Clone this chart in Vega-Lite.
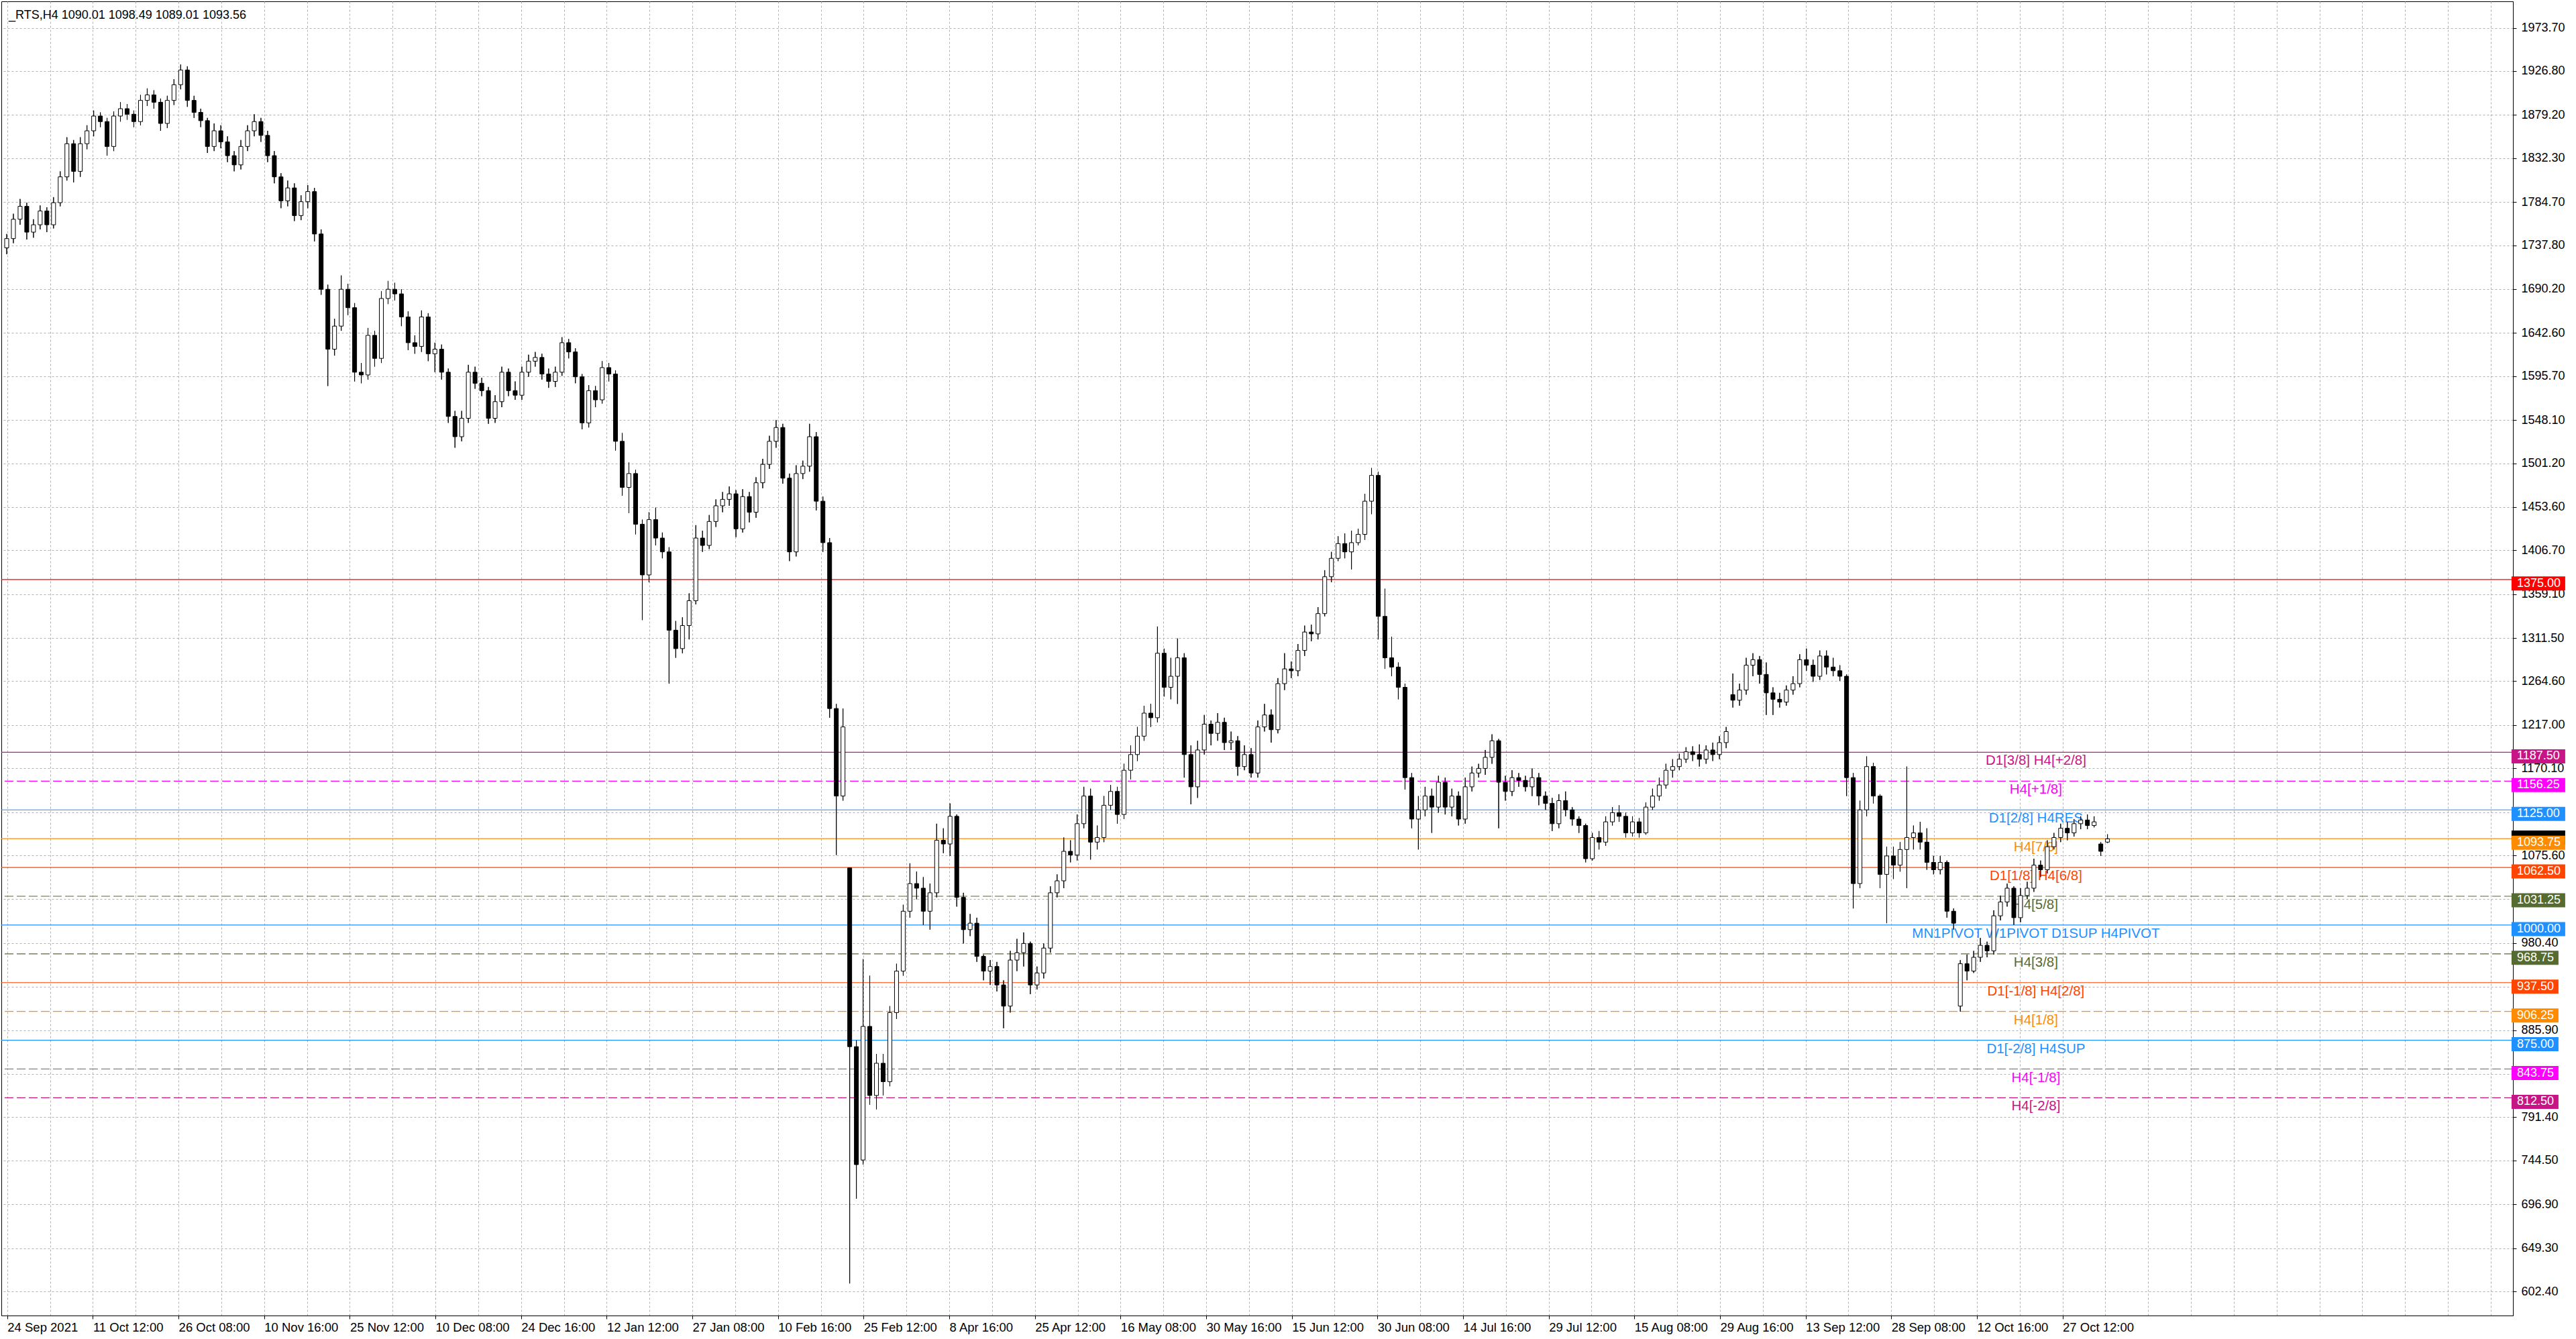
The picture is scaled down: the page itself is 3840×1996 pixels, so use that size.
{
"$schema":"https://vega.github.io/schema/vega-lite/v6.json",
"width":3744,"height":1959,
"autosize":{"type":"none"},
"padding":{"left":2,"top":2,"right":94,"bottom":35},
"background":"white",
"config":{"view":{"stroke":"black","strokeWidth":1},"axis":{"domainColor":"black","tickColor":"black","labelColor":"black","gridColor":"#b0b0b0","gridDash":[3,3],"gridWidth":1,"labelFont":"Liberation Sans","labelFontSize":18}},
"datasets":{
"caption":[{"t":"_RTS,H4  1090.01 1098.49 1089.01 1093.56"}],
"levels":[
{"price":1375,"name":"HLine","tf":"obj"},
{"price":1187.5,"name":"D1[3/8] H4[+2/8]","tf":"D1"},
{"price":1156.25,"name":"H4[+1/8]","tf":"H4"},
{"price":1125,"name":"D1[2/8] H4RES","tf":"D1"},
{"price":1093.75,"name":"H4[7/8]","tf":"H4s"},
{"price":1062.5,"name":"D1[1/8] H4[6/8]","tf":"D1"},
{"price":1031.25,"name":"H4[5/8]","tf":"H4"},
{"price":1000,"name":"MN1PIVOT W1PIVOT D1SUP H4PIVOT","tf":"MN1"},
{"price":968.75,"name":"H4[3/8]","tf":"H4"},
{"price":937.5,"name":"D1[-1/8] H4[2/8]","tf":"D1"},
{"price":906.25,"name":"H4[1/8]","tf":"H4"},
{"price":875,"name":"D1[-2/8] H4SUP","tf":"D1"},
{"price":843.75,"name":"H4[-1/8]","tf":"H4"},
{"price":812.5,"name":"H4[-2/8]","tf":"H4"}
],
"bid":[{"price":1093.56}],
"bars":[
{"i":0,"o":1735,"h":1750,"l":1728,"c":1745},
{"i":1,"o":1745,"h":1772,"l":1740,"c":1766},
{"i":2,"o":1766,"h":1788,"l":1760,"c":1780},
{"i":3,"o":1780,"h":1784,"l":1744,"c":1752},
{"i":4,"o":1752,"h":1766,"l":1746,"c":1760},
{"i":5,"o":1760,"h":1781,"l":1755,"c":1775},
{"i":6,"o":1775,"h":1779,"l":1752,"c":1760},
{"i":7,"o":1760,"h":1790,"l":1756,"c":1784},
{"i":8,"o":1784,"h":1818,"l":1780,"c":1812},
{"i":9,"o":1812,"h":1855,"l":1808,"c":1848},
{"i":10,"o":1848,"h":1852,"l":1806,"c":1818},
{"i":11,"o":1818,"h":1855,"l":1812,"c":1848},
{"i":12,"o":1848,"h":1868,"l":1842,"c":1862},
{"i":13,"o":1862,"h":1884,"l":1856,"c":1878},
{"i":14,"o":1878,"h":1882,"l":1866,"c":1872},
{"i":15,"o":1872,"h":1876,"l":1835,"c":1845},
{"i":16,"o":1845,"h":1883,"l":1840,"c":1878},
{"i":17,"o":1878,"h":1893,"l":1872,"c":1886},
{"i":18,"o":1886,"h":1891,"l":1874,"c":1880},
{"i":19,"o":1880,"h":1884,"l":1866,"c":1872},
{"i":20,"o":1872,"h":1901,"l":1868,"c":1895},
{"i":21,"o":1895,"h":1908,"l":1889,"c":1901},
{"i":22,"o":1901,"h":1906,"l":1886,"c":1893},
{"i":23,"o":1893,"h":1897,"l":1862,"c":1870},
{"i":24,"o":1870,"h":1900,"l":1865,"c":1895},
{"i":25,"o":1895,"h":1918,"l":1890,"c":1912},
{"i":26,"o":1912,"h":1934,"l":1907,"c":1928},
{"i":27,"o":1928,"h":1932,"l":1888,"c":1895},
{"i":28,"o":1895,"h":1900,"l":1876,"c":1882},
{"i":29,"o":1882,"h":1886,"l":1866,"c":1873},
{"i":30,"o":1873,"h":1876,"l":1838,"c":1845},
{"i":31,"o":1845,"h":1870,"l":1840,"c":1862},
{"i":32,"o":1862,"h":1868,"l":1843,"c":1850},
{"i":33,"o":1850,"h":1856,"l":1828,"c":1835},
{"i":34,"o":1835,"h":1840,"l":1818,"c":1825},
{"i":35,"o":1825,"h":1852,"l":1820,"c":1845},
{"i":36,"o":1845,"h":1868,"l":1840,"c":1862},
{"i":37,"o":1862,"h":1880,"l":1856,"c":1872},
{"i":38,"o":1872,"h":1876,"l":1850,"c":1857},
{"i":39,"o":1857,"h":1862,"l":1828,"c":1835},
{"i":40,"o":1835,"h":1840,"l":1805,"c":1812},
{"i":41,"o":1812,"h":1816,"l":1778,"c":1786},
{"i":42,"o":1786,"h":1808,"l":1780,"c":1800},
{"i":43,"o":1800,"h":1805,"l":1764,"c":1770},
{"i":44,"o":1770,"h":1792,"l":1765,"c":1785},
{"i":45,"o":1785,"h":1803,"l":1778,"c":1796},
{"i":46,"o":1796,"h":1800,"l":1742,"c":1750},
{"i":47,"o":1750,"h":1755,"l":1684,"c":1690},
{"i":48,"o":1690,"h":1695,"l":1585,"c":1625},
{"i":49,"o":1625,"h":1658,"l":1618,"c":1650},
{"i":50,"o":1650,"h":1705,"l":1645,"c":1690},
{"i":51,"o":1690,"h":1696,"l":1662,"c":1670},
{"i":52,"o":1670,"h":1675,"l":1590,"c":1600},
{"i":53,"o":1600,"h":1610,"l":1588,"c":1597},
{"i":54,"o":1597,"h":1648,"l":1592,"c":1640},
{"i":55,"o":1640,"h":1645,"l":1606,"c":1615},
{"i":56,"o":1615,"h":1688,"l":1610,"c":1680},
{"i":57,"o":1680,"h":1699,"l":1674,"c":1690},
{"i":58,"o":1690,"h":1697,"l":1678,"c":1685},
{"i":59,"o":1685,"h":1690,"l":1650,"c":1660},
{"i":60,"o":1660,"h":1666,"l":1624,"c":1632},
{"i":61,"o":1632,"h":1640,"l":1620,"c":1628},
{"i":62,"o":1628,"h":1667,"l":1622,"c":1660},
{"i":63,"o":1660,"h":1664,"l":1612,"c":1620},
{"i":64,"o":1620,"h":1632,"l":1600,"c":1625},
{"i":65,"o":1625,"h":1630,"l":1592,"c":1600},
{"i":66,"o":1600,"h":1604,"l":1545,"c":1552},
{"i":67,"o":1552,"h":1558,"l":1518,"c":1530},
{"i":68,"o":1530,"h":1558,"l":1525,"c":1550},
{"i":69,"o":1550,"h":1608,"l":1545,"c":1600},
{"i":70,"o":1600,"h":1606,"l":1582,"c":1588},
{"i":71,"o":1588,"h":1594,"l":1574,"c":1580},
{"i":72,"o":1580,"h":1584,"l":1544,"c":1550},
{"i":73,"o":1550,"h":1575,"l":1545,"c":1568},
{"i":74,"o":1568,"h":1606,"l":1562,"c":1600},
{"i":75,"o":1600,"h":1604,"l":1574,"c":1580},
{"i":76,"o":1580,"h":1590,"l":1570,"c":1575},
{"i":77,"o":1575,"h":1606,"l":1570,"c":1600},
{"i":78,"o":1600,"h":1619,"l":1595,"c":1612},
{"i":79,"o":1612,"h":1622,"l":1606,"c":1616},
{"i":80,"o":1616,"h":1620,"l":1592,"c":1598},
{"i":81,"o":1598,"h":1604,"l":1583,"c":1590},
{"i":82,"o":1590,"h":1606,"l":1584,"c":1600},
{"i":83,"o":1600,"h":1638,"l":1596,"c":1632},
{"i":84,"o":1632,"h":1636,"l":1615,"c":1622},
{"i":85,"o":1622,"h":1626,"l":1588,"c":1595},
{"i":86,"o":1595,"h":1598,"l":1538,"c":1545},
{"i":87,"o":1545,"h":1586,"l":1540,"c":1580},
{"i":88,"o":1580,"h":1585,"l":1562,"c":1570},
{"i":89,"o":1570,"h":1612,"l":1566,"c":1605},
{"i":90,"o":1605,"h":1610,"l":1590,"c":1598},
{"i":91,"o":1598,"h":1602,"l":1515,"c":1525},
{"i":92,"o":1525,"h":1534,"l":1466,"c":1475},
{"i":93,"o":1475,"h":1502,"l":1447,"c":1490},
{"i":94,"o":1490,"h":1494,"l":1424,"c":1435},
{"i":95,"o":1435,"h":1440,"l":1331,"c":1380},
{"i":96,"o":1380,"h":1448,"l":1372,"c":1440},
{"i":97,"o":1440,"h":1453,"l":1412,"c":1420},
{"i":98,"o":1420,"h":1426,"l":1398,"c":1405},
{"i":99,"o":1405,"h":1410,"l":1262,"c":1320},
{"i":100,"o":1320,"h":1330,"l":1290,"c":1300},
{"i":101,"o":1300,"h":1334,"l":1295,"c":1325},
{"i":102,"o":1325,"h":1360,"l":1310,"c":1352},
{"i":103,"o":1352,"h":1434,"l":1348,"c":1420},
{"i":104,"o":1420,"h":1428,"l":1405,"c":1412},
{"i":105,"o":1412,"h":1445,"l":1408,"c":1438},
{"i":106,"o":1438,"h":1462,"l":1432,"c":1455},
{"i":107,"o":1455,"h":1470,"l":1448,"c":1462},
{"i":108,"o":1462,"h":1476,"l":1455,"c":1468},
{"i":109,"o":1468,"h":1472,"l":1421,"c":1430},
{"i":110,"o":1430,"h":1473,"l":1426,"c":1465},
{"i":111,"o":1465,"h":1470,"l":1437,"c":1448},
{"i":112,"o":1448,"h":1486,"l":1442,"c":1480},
{"i":113,"o":1480,"h":1506,"l":1474,"c":1500},
{"i":114,"o":1500,"h":1531,"l":1495,"c":1525},
{"i":115,"o":1525,"h":1548,"l":1518,"c":1540},
{"i":116,"o":1540,"h":1544,"l":1479,"c":1485},
{"i":117,"o":1485,"h":1490,"l":1395,"c":1405},
{"i":118,"o":1405,"h":1499,"l":1400,"c":1490},
{"i":119,"o":1490,"h":1504,"l":1484,"c":1498},
{"i":120,"o":1498,"h":1544,"l":1492,"c":1530},
{"i":121,"o":1530,"h":1535,"l":1450,"c":1460},
{"i":122,"o":1460,"h":1465,"l":1405,"c":1415},
{"i":123,"o":1415,"h":1420,"l":1225,"c":1235},
{"i":124,"o":1235,"h":1240,"l":1076,"c":1140},
{"i":125,"o":1140,"h":1235,"l":1135,"c":1215},
{"i":126,"o":1062,"h":1062,"l":611,"c":868},
{"i":127,"o":868,"h":875,"l":703,"c":740},
{"i":128,"o":745,"h":963,"l":740,"c":890},
{"i":129,"o":890,"h":945,"l":805,"c":815},
{"i":130,"o":815,"h":860,"l":800,"c":850},
{"i":131,"o":850,"h":860,"l":815,"c":830},
{"i":132,"o":830,"h":912,"l":825,"c":905},
{"i":133,"o":905,"h":958,"l":898,"c":950},
{"i":134,"o":950,"h":1022,"l":945,"c":1015},
{"i":135,"o":1015,"h":1067,"l":1008,"c":1045},
{"i":136,"o":1045,"h":1058,"l":1028,"c":1040},
{"i":137,"o":1040,"h":1052,"l":1000,"c":1015},
{"i":138,"o":1015,"h":1045,"l":995,"c":1035},
{"i":139,"o":1035,"h":1110,"l":1030,"c":1092},
{"i":140,"o":1092,"h":1105,"l":1078,"c":1088},
{"i":141,"o":1088,"h":1132,"l":1075,"c":1118},
{"i":142,"o":1118,"h":1120,"l":1020,"c":1030},
{"i":143,"o":1030,"h":1035,"l":980,"c":995},
{"i":144,"o":995,"h":1012,"l":988,"c":1002},
{"i":145,"o":1002,"h":1008,"l":960,"c":966},
{"i":146,"o":966,"h":968,"l":940,"c":950},
{"i":147,"o":950,"h":962,"l":935,"c":955},
{"i":148,"o":955,"h":960,"l":928,"c":935},
{"i":149,"o":935,"h":940,"l":888,"c":912},
{"i":150,"o":912,"h":972,"l":905,"c":962},
{"i":151,"o":962,"h":985,"l":950,"c":970},
{"i":152,"o":970,"h":992,"l":955,"c":980},
{"i":153,"o":980,"h":982,"l":925,"c":935},
{"i":154,"o":935,"h":955,"l":930,"c":948},
{"i":155,"o":948,"h":980,"l":942,"c":975},
{"i":156,"o":975,"h":1042,"l":970,"c":1035},
{"i":157,"o":1035,"h":1055,"l":1030,"c":1048},
{"i":158,"o":1048,"h":1095,"l":1040,"c":1080},
{"i":159,"o":1080,"h":1092,"l":1068,"c":1076},
{"i":160,"o":1076,"h":1120,"l":1070,"c":1110},
{"i":161,"o":1110,"h":1150,"l":1105,"c":1140},
{"i":162,"o":1140,"h":1148,"l":1071,"c":1090},
{"i":163,"o":1090,"h":1108,"l":1082,"c":1095},
{"i":164,"o":1095,"h":1140,"l":1090,"c":1130},
{"i":165,"o":1130,"h":1152,"l":1125,"c":1145},
{"i":166,"o":1145,"h":1150,"l":1110,"c":1120},
{"i":167,"o":1120,"h":1175,"l":1115,"c":1168},
{"i":168,"o":1168,"h":1195,"l":1158,"c":1185},
{"i":169,"o":1185,"h":1215,"l":1178,"c":1205},
{"i":170,"o":1205,"h":1238,"l":1200,"c":1230},
{"i":171,"o":1230,"h":1240,"l":1215,"c":1225},
{"i":172,"o":1225,"h":1324,"l":1220,"c":1295},
{"i":173,"o":1295,"h":1300,"l":1248,"c":1258},
{"i":174,"o":1258,"h":1290,"l":1245,"c":1270},
{"i":175,"o":1270,"h":1311,"l":1240,"c":1290},
{"i":176,"o":1290,"h":1295,"l":1160,"c":1185},
{"i":177,"o":1185,"h":1195,"l":1131,"c":1150},
{"i":178,"o":1150,"h":1200,"l":1138,"c":1190},
{"i":179,"o":1190,"h":1228,"l":1185,"c":1218},
{"i":180,"o":1218,"h":1222,"l":1195,"c":1208},
{"i":181,"o":1208,"h":1230,"l":1200,"c":1220},
{"i":182,"o":1220,"h":1225,"l":1190,"c":1198},
{"i":183,"o":1198,"h":1210,"l":1190,"c":1200},
{"i":184,"o":1200,"h":1205,"l":1162,"c":1172},
{"i":185,"o":1172,"h":1195,"l":1168,"c":1185},
{"i":186,"o":1185,"h":1192,"l":1160,"c":1165},
{"i":187,"o":1165,"h":1222,"l":1160,"c":1215},
{"i":188,"o":1215,"h":1240,"l":1210,"c":1228},
{"i":189,"o":1228,"h":1234,"l":1198,"c":1212},
{"i":190,"o":1212,"h":1268,"l":1208,"c":1262},
{"i":191,"o":1262,"h":1295,"l":1255,"c":1278},
{"i":192,"o":1278,"h":1286,"l":1268,"c":1276},
{"i":193,"o":1276,"h":1305,"l":1270,"c":1298},
{"i":194,"o":1298,"h":1325,"l":1292,"c":1318},
{"i":195,"o":1318,"h":1326,"l":1308,"c":1316},
{"i":196,"o":1316,"h":1345,"l":1310,"c":1338},
{"i":197,"o":1338,"h":1385,"l":1335,"c":1378},
{"i":198,"o":1378,"h":1405,"l":1372,"c":1398},
{"i":199,"o":1398,"h":1422,"l":1395,"c":1414},
{"i":200,"o":1414,"h":1425,"l":1398,"c":1405},
{"i":201,"o":1405,"h":1428,"l":1386,"c":1415},
{"i":202,"o":1415,"h":1430,"l":1412,"c":1424},
{"i":203,"o":1424,"h":1468,"l":1418,"c":1460},
{"i":204,"o":1460,"h":1496,"l":1446,"c":1488},
{"i":205,"o":1488,"h":1492,"l":1310,"c":1335},
{"i":206,"o":1335,"h":1365,"l":1278,"c":1290},
{"i":207,"o":1290,"h":1313,"l":1270,"c":1280},
{"i":208,"o":1280,"h":1285,"l":1245,"c":1258},
{"i":209,"o":1258,"h":1262,"l":1147,"c":1160},
{"i":210,"o":1160,"h":1165,"l":1105,"c":1115},
{"i":211,"o":1115,"h":1140,"l":1082,"c":1125},
{"i":212,"o":1125,"h":1150,"l":1118,"c":1140},
{"i":213,"o":1140,"h":1148,"l":1100,"c":1128},
{"i":214,"o":1128,"h":1162,"l":1122,"c":1155},
{"i":215,"o":1155,"h":1160,"l":1120,"c":1128},
{"i":216,"o":1128,"h":1148,"l":1118,"c":1140},
{"i":217,"o":1140,"h":1145,"l":1108,"c":1115},
{"i":218,"o":1115,"h":1160,"l":1110,"c":1150},
{"i":219,"o":1150,"h":1172,"l":1145,"c":1165},
{"i":220,"o":1165,"h":1175,"l":1160,"c":1170},
{"i":221,"o":1170,"h":1190,"l":1163,"c":1182},
{"i":222,"o":1182,"h":1207,"l":1175,"c":1200},
{"i":223,"o":1200,"h":1202,"l":1105,"c":1155},
{"i":224,"o":1155,"h":1162,"l":1135,"c":1145},
{"i":225,"o":1145,"h":1168,"l":1140,"c":1160},
{"i":226,"o":1160,"h":1165,"l":1150,"c":1157},
{"i":227,"o":1157,"h":1162,"l":1145,"c":1150},
{"i":228,"o":1150,"h":1170,"l":1140,"c":1160},
{"i":229,"o":1160,"h":1165,"l":1130,"c":1140},
{"i":230,"o":1140,"h":1145,"l":1125,"c":1132},
{"i":231,"o":1132,"h":1138,"l":1102,"c":1110},
{"i":232,"o":1110,"h":1142,"l":1105,"c":1135},
{"i":233,"o":1135,"h":1145,"l":1118,"c":1125},
{"i":234,"o":1125,"h":1128,"l":1108,"c":1115},
{"i":235,"o":1115,"h":1118,"l":1100,"c":1108},
{"i":236,"o":1108,"h":1110,"l":1068,"c":1072},
{"i":237,"o":1072,"h":1100,"l":1070,"c":1095},
{"i":238,"o":1095,"h":1102,"l":1082,"c":1090},
{"i":239,"o":1090,"h":1118,"l":1086,"c":1112},
{"i":240,"o":1112,"h":1128,"l":1108,"c":1122},
{"i":241,"o":1122,"h":1130,"l":1112,"c":1118},
{"i":242,"o":1118,"h":1122,"l":1095,"c":1100},
{"i":243,"o":1100,"h":1118,"l":1096,"c":1112},
{"i":244,"o":1112,"h":1116,"l":1095,"c":1100},
{"i":245,"o":1100,"h":1133,"l":1098,"c":1128},
{"i":246,"o":1128,"h":1148,"l":1125,"c":1140},
{"i":247,"o":1140,"h":1160,"l":1135,"c":1152},
{"i":248,"o":1152,"h":1175,"l":1148,"c":1168},
{"i":249,"o":1168,"h":1180,"l":1160,"c":1172},
{"i":250,"o":1172,"h":1186,"l":1168,"c":1180},
{"i":251,"o":1180,"h":1193,"l":1176,"c":1188},
{"i":252,"o":1188,"h":1194,"l":1178,"c":1185},
{"i":253,"o":1185,"h":1196,"l":1172,"c":1180},
{"i":254,"o":1180,"h":1195,"l":1175,"c":1190},
{"i":255,"o":1190,"h":1198,"l":1178,"c":1185},
{"i":256,"o":1185,"h":1205,"l":1180,"c":1198},
{"i":257,"o":1198,"h":1215,"l":1192,"c":1210},
{"i":258,"o":1250,"h":1273,"l":1236,"c":1244},
{"i":259,"o":1244,"h":1262,"l":1238,"c":1255},
{"i":260,"o":1255,"h":1290,"l":1250,"c":1282},
{"i":261,"o":1282,"h":1295,"l":1270,"c":1288},
{"i":262,"o":1288,"h":1292,"l":1262,"c":1272},
{"i":263,"o":1272,"h":1285,"l":1228,"c":1252},
{"i":264,"o":1252,"h":1258,"l":1228,"c":1245},
{"i":265,"o":1245,"h":1252,"l":1236,"c":1242},
{"i":266,"o":1242,"h":1260,"l":1238,"c":1255},
{"i":267,"o":1255,"h":1270,"l":1250,"c":1262},
{"i":268,"o":1262,"h":1294,"l":1258,"c":1288},
{"i":269,"o":1288,"h":1300,"l":1276,"c":1282},
{"i":270,"o":1282,"h":1288,"l":1264,"c":1270},
{"i":271,"o":1270,"h":1298,"l":1266,"c":1292},
{"i":272,"o":1292,"h":1298,"l":1272,"c":1280},
{"i":273,"o":1280,"h":1290,"l":1270,"c":1276},
{"i":274,"o":1276,"h":1282,"l":1265,"c":1270},
{"i":275,"o":1270,"h":1272,"l":1140,"c":1160},
{"i":276,"o":1160,"h":1165,"l":1018,"c":1045},
{"i":277,"o":1045,"h":1135,"l":1040,"c":1125},
{"i":278,"o":1125,"h":1183,"l":1118,"c":1172},
{"i":279,"o":1172,"h":1176,"l":1132,"c":1140},
{"i":280,"o":1140,"h":1142,"l":1040,"c":1055},
{"i":281,"o":1055,"h":1085,"l":1002,"c":1075},
{"i":282,"o":1075,"h":1085,"l":1050,"c":1065},
{"i":283,"o":1065,"h":1090,"l":1058,"c":1082},
{"i":284,"o":1082,"h":1172,"l":1040,"c":1095},
{"i":285,"o":1095,"h":1108,"l":1082,"c":1100},
{"i":286,"o":1100,"h":1112,"l":1082,"c":1090},
{"i":287,"o":1090,"h":1105,"l":1060,"c":1068},
{"i":288,"o":1068,"h":1075,"l":1055,"c":1060},
{"i":289,"o":1060,"h":1075,"l":1055,"c":1068},
{"i":290,"o":1068,"h":1070,"l":1008,"c":1015},
{"i":291,"o":1015,"h":1018,"l":995,"c":1002},
{"i":292,"o":912,"h":962,"l":906,"c":958},
{"i":293,"o":958,"h":968,"l":940,"c":950},
{"i":294,"o":950,"h":972,"l":948,"c":965},
{"i":295,"o":965,"h":986,"l":960,"c":978},
{"i":296,"o":978,"h":982,"l":965,"c":972},
{"i":297,"o":972,"h":1016,"l":968,"c":1010},
{"i":298,"o":1010,"h":1032,"l":1005,"c":1025},
{"i":299,"o":1025,"h":1045,"l":1020,"c":1040},
{"i":300,"o":1040,"h":1042,"l":1000,"c":1008},
{"i":301,"o":1008,"h":1040,"l":1003,"c":1032},
{"i":302,"o":1032,"h":1047,"l":1028,"c":1040},
{"i":303,"o":1040,"h":1072,"l":1036,"c":1065},
{"i":304,"o":1065,"h":1070,"l":1052,"c":1060},
{"i":305,"o":1060,"h":1092,"l":1056,"c":1085},
{"i":306,"o":1085,"h":1100,"l":1082,"c":1095},
{"i":307,"o":1095,"h":1110,"l":1090,"c":1105},
{"i":308,"o":1105,"h":1112,"l":1092,"c":1100},
{"i":309,"o":1100,"h":1115,"l":1096,"c":1110},
{"i":310,"o":1110,"h":1118,"l":1104,"c":1114},
{"i":311,"o":1114,"h":1120,"l":1104,"c":1108},
{"i":312,"o":1108,"h":1118,"l":1106,"c":1112},
{"i":313,"o":1088,"h":1090,"l":1075,"c":1080},
{"i":314,"o":1090.01,"h":1098.49,"l":1089.01,"c":1093.56}
]
},
"layer":[
{"data":{"name":"bars"},
 "mark":{"type":"rule","color":"black","strokeWidth":1},
 "encoding":{
  "x":{"field":"i","type":"quantitative","scale":{"domain":[-0.3,374.1],"nice":false,"zero":false},
   "axis":{"orient":"bottom","title":null,"grid":true,"values":[0.08,6.48,12.88,19.28,25.68,32.08,38.48,44.88,51.28,57.68,64.08,70.48,76.88,83.28,89.68,96.08,102.48,108.88,115.28,121.68,128.08,134.48,140.88,147.28,153.68,160.08,166.48,172.88,179.28,185.68,192.08,198.48,204.88,211.28,217.68,224.08,230.48,236.88,243.28,249.68,256.08,262.48,268.88,275.28,281.68,288.08,294.48,300.88,307.28,313.68,320.08,326.48,332.88,339.28,345.68,352.08,358.48,364.88,371.28],
   "labelExpr":"abs(datum.value - 0.08 - 12.8 * round((datum.value - 0.08) / 12.8)) < 1 ? (['24 Sep 2021','11 Oct 12:00','26 Oct 08:00','10 Nov 16:00','25 Nov 12:00','10 Dec 08:00','24 Dec 16:00','12 Jan 12:00','27 Jan 08:00','10 Feb 16:00','25 Feb 12:00','8 Apr 16:00','25 Apr 12:00','16 May 08:00','30 May 16:00','15 Jun 12:00','30 Jun 08:00','14 Jul 16:00','29 Jul 12:00','15 Aug 08:00','29 Aug 16:00','13 Sep 12:00','28 Sep 08:00','12 Oct 16:00','27 Oct 12:00'][round((datum.value - 0.08) / 12.8)] || '') : ''",
   "tickSize":5,
   "tickOpacity":{"condition":{"test":"abs(datum.value - 0.08 - 12.8 * round((datum.value - 0.08) / 12.8)) < 1 && datum.value < 310","value":1},"value":0},
   "labelAlign":"left","labelBaseline":"top","labelPadding":3,"labelFlush":false,"labelOverlap":false,"labelBound":false,"labelFontSize":18.5}},
  "y":{"field":"l","type":"quantitative","scale":{"domain":[576.2,2002.5],"nice":false,"zero":false},
   "axis":{"orient":"right","title":null,"grid":true,"values":[602.4,649.3,696.9,744.5,791.4,838.3,885.9,932.8,980.4,1028.0,1075.6,1122.5,1170.1,1217.0,1264.6,1311.5,1359.1,1406.7,1453.6,1501.2,1548.1,1595.7,1642.6,1690.2,1737.8,1784.7,1832.3,1879.2,1926.8,1973.7],
   "labelExpr":"indexof([838.3, 932.8, 1028, 1122.5], datum.value) >= 0 ? '' : format(datum.value, '.2f')",
   "tickSize":5,"labelPadding":7,"labelOverlap":false,"labelFlush":false}},
  "y2":{"field":"h"}
 }},
{"data":{"name":"levels"},
 "mark":{"type":"rule"},
 "encoding":{
  "y":{"field":"price","type":"quantitative","scale":{"domain":[576.2,2002.5],"nice":false,"zero":false},"axis":{"title":null}},
  "color":{"field":"name","type":"nominal","legend":null,"scale":{"domain":["HLine","D1[3/8] H4[+2/8]","H4[+1/8]","D1[2/8] H4RES","H4[7/8]","D1[1/8] H4[6/8]","H4[5/8]","MN1PIVOT W1PIVOT D1SUP H4PIVOT","H4[3/8]","D1[-1/8] H4[2/8]","H4[1/8]","D1[-2/8] H4SUP","H4[-1/8]","H4[-2/8]"],"range":["#FF0000","#C71585","#FF00FF","#1E90FF","#FF8C00","#FF4500","#556B2F","#1E90FF","#556B2F","#FF4500","#FF8C00","#1E90FF","#FF00FF","#C71585"]}},
  "strokeDash":{"field":"tf","type":"nominal","legend":null,"scale":{"domain":["obj","D1","MN1","H4s","H4"],"range":[[1,0],[1,0],[1,0],[1,0],[13,5]]}},
  "strokeWidth":{"field":"tf","type":"nominal","legend":null,"scale":{"domain":["obj","D1","MN1","H4s","H4"],"range":[1.2,1.2,2,1.2,1.2]}}
 }},
{"data":{"name":"levels"},
 "transform":[{"filter":"datum.tf != 'obj'"}],
 "mark":{"type":"text","align":"center","baseline":"top","dy":3,"font":"Liberation Sans","fontSize":20.5},
 "encoding":{
  "x":{"datum":303.3,"type":"quantitative","scale":{"domain":[-0.3,374.1],"nice":false,"zero":false},"axis":{"title":null}},
  "y":{"field":"price","type":"quantitative","scale":{"domain":[576.2,2002.5],"nice":false,"zero":false},"axis":{"title":null}},
  "text":{"field":"name","type":"nominal"},
  "color":{"field":"name","type":"nominal","legend":null}
 }},
{"data":{"name":"bars"},
 "mark":{"type":"rule","color":"black","strokeWidth":1},
 "encoding":{
  "x":{"field":"i","type":"quantitative","scale":{"domain":[-0.3,374.1],"nice":false,"zero":false},"axis":{"title":null}},
  "y":{"field":"l","type":"quantitative","scale":{"domain":[576.2,2002.5],"nice":false,"zero":false},"axis":{"title":null}},
  "y2":{"field":"h"}
 }},
{"data":{"name":"bars"},
 "mark":{"type":"bar","orient":"vertical","width":6,"stroke":"black","strokeWidth":1},
 "encoding":{
  "x":{"field":"i","type":"quantitative","scale":{"domain":[-0.3,374.1],"nice":false,"zero":false},"axis":{"title":null}},
  "y":{"field":"o","type":"quantitative","scale":{"domain":[576.2,2002.5],"nice":false,"zero":false},"axis":{"title":null}},
  "y2":{"field":"c"},
  "fill":{"condition":{"test":"datum.c < datum.o","value":"black"},"value":"white"}
 }},
{"data":{"name":"caption"},
 "mark":{"type":"text","align":"left","baseline":"alphabetic","font":"Liberation Sans","fontSize":18,"color":"black"},
 "encoding":{
  "x":{"datum":0.3,"type":"quantitative","scale":{"domain":[-0.3,374.1],"nice":false,"zero":false},"axis":{"title":null}},
  "y":{"datum":1983.6,"type":"quantitative","scale":{"domain":[576.2,2002.5],"nice":false,"zero":false},"axis":{"title":null}},
  "text":{"field":"t","type":"nominal"}
 }},
{"data":{"name":"bid"},
 "mark":{"type":"tick","orient":"horizontal","size":80,"thickness":21,"color":"black","opacity":1,"yOffset":-2,"clip":false},
 "encoding":{
  "x":{"datum":378.4,"type":"quantitative","scale":{"domain":[-0.3,374.1],"nice":false,"zero":false},"axis":{"title":null}},
  "y":{"field":"price","type":"quantitative","scale":{"domain":[576.2,2002.5],"nice":false,"zero":false},"axis":{"title":null}}
 }},
{"data":{"name":"levels"},
 "transform":[{"filter":"datum.price >= 1000"}],
 "mark":{"type":"tick","orient":"horizontal","size":80,"thickness":21,"opacity":1,"yOffset":6,"clip":false},
 "encoding":{
  "x":{"datum":378.4,"type":"quantitative","scale":{"domain":[-0.3,374.1],"nice":false,"zero":false},"axis":{"title":null}},
  "y":{"field":"price","type":"quantitative","scale":{"domain":[576.2,2002.5],"nice":false,"zero":false},"axis":{"title":null}},
  "color":{"field":"name","type":"nominal","legend":null}
 }},
{"data":{"name":"levels"},
 "transform":[{"filter":"datum.price < 1000"}],
 "mark":{"type":"tick","orient":"horizontal","size":70,"thickness":21,"opacity":1,"yOffset":6,"clip":false},
 "encoding":{
  "x":{"datum":377.9,"type":"quantitative","scale":{"domain":[-0.3,374.1],"nice":false,"zero":false},"axis":{"title":null}},
  "y":{"field":"price","type":"quantitative","scale":{"domain":[576.2,2002.5],"nice":false,"zero":false},"axis":{"title":null}},
  "color":{"field":"name","type":"nominal","legend":null}
 }},
{"data":{"name":"levels"},
 "mark":{"type":"text","align":"left","baseline":"middle","yOffset":6,"color":"white","font":"Liberation Sans","fontSize":18,"clip":false},
 "encoding":{
  "x":{"datum":375.2,"type":"quantitative","scale":{"domain":[-0.3,374.1],"nice":false,"zero":false},"axis":{"title":null}},
  "y":{"field":"price","type":"quantitative","scale":{"domain":[576.2,2002.5],"nice":false,"zero":false},"axis":{"title":null}},
  "text":{"field":"price","type":"quantitative","format":".2f"}
 }}
]
}
